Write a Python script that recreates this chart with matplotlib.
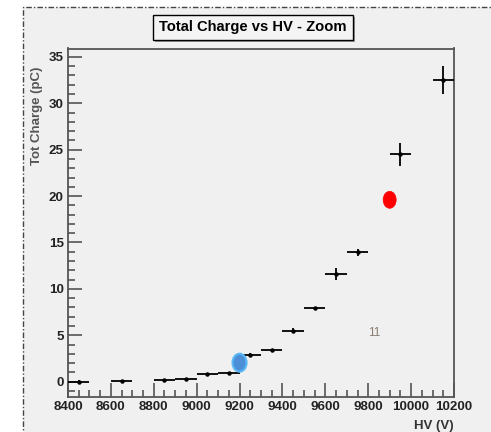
import matplotlib
matplotlib.use("Agg")
import matplotlib.pyplot as plt
from matplotlib.patches import Rectangle, Ellipse
from matplotlib.ticker import MultipleLocator
from matplotlib import font_manager

# Data
hv = [8450, 8650, 8850, 8950, 9050, 9150, 9250, 9350, 9450, 9550, 9650, 9750, 9950, 10150]
charge = [0.0, 0.05, 0.15, 0.25, 0.83, 0.9, 2.84, 3.37, 5.5, 7.9, 11.6, 13.95, 24.5, 32.5]
hv_err = [50] * 14
charge_err = [0.15, 0.15, 0.15, 0.15, 0.15, 0.15, 0.2, 0.2, 0.3, 0.2, 0.6, 0.4, 1.25, 1.5]
blue_pt = (9200, 2.05)
red_pt = (9900, 19.6)
label_11 = (9830, 5.3, "11")
title = "Total Charge vs HV - Zoom"
xlabel = "HV (V)"
ylabel = "Tot Charge (pC)"

names = {f.name for f in font_manager.fontManager.ttflist}
narrow = "Liberation Sans Narrow" if "Liberation Sans Narrow" in names else None

W, H = 491, 432
fig = plt.figure(figsize=(W / 100, H / 100), dpi=100)
fig.patch.set_facecolor("white")
plt.rcParams['font.family'] = ['Liberation Sans', 'DejaVu Sans']
tick_family = [narrow, 'Liberation Sans'] if narrow else ['Liberation Sans']
tick_size = 10.5 if narrow else 9.6

# background + dashed frame
fig.patches.append(Rectangle((22.7 / W, -0.2), 2, 1.2 - 7 / H, transform=fig.transFigure,
                             facecolor="#f0f0f0", edgecolor="#444444", lw=1.0,
                             linestyle=(0, (4, 1.5, 1, 1.5)), zorder=-5))

l, r, t, b = 68, 454, 48.5, 397.3
ax = fig.add_axes([l / W, 1 - b / H, (r - l) / W, (b - t) / H])
ax.set_zorder(5)
ax.set_facecolor("#f0f0f0")
ax.set_xlim(8400, 10200)
ax.set_ylim(-1.68, 35.9)

for s in ax.spines.values():
    s.set_color("#555555")
    s.set_linewidth(1.3)

ax.xaxis.set_major_locator(MultipleLocator(200))
ax.xaxis.set_minor_locator(MultipleLocator(50))
ax.yaxis.set_major_locator(MultipleLocator(5))
ax.yaxis.set_minor_locator(MultipleLocator(1))
ax.tick_params(which="both", direction="in", color="#555555", width=1.2,
               top=False, right=False)
ax.tick_params(which="major", length=10, pad=3)
ax.tick_params(which="minor", length=5)
for lab in ax.get_xticklabels() + ax.get_yticklabels():
    lab.set_fontweight("bold")
    lab.set_color("#222222")
    lab.set_family(tick_family)
    lab.set_fontsize(tick_size)

ax.errorbar(hv, charge, xerr=hv_err, yerr=charge_err, fmt="o", ms=2.2,
            color="black", ecolor="black", elinewidth=1.3, capsize=0, zorder=3)

ax.add_patch(Ellipse(blue_pt, width=14 / 0.2139, height=18 / 9.3,
                     facecolor="#4a8fd8", edgecolor="#5ab8f5", lw=1.5, zorder=4))
ax.add_patch(Ellipse(red_pt, width=13 / 0.2139, height=17 / 9.3,
                     facecolor="#ff0000", edgecolor="#ff0000", lw=0.5, zorder=4))
ax.text(label_11[0], label_11[1], label_11[2], color="#8a7e72", fontsize=8.5,
        ha="center", va="center")

fig.text(r / W, 0.5 / H, xlabel, ha="right", va="bottom",
         fontsize=9.5, fontweight="bold", color="#333333", family=tick_family)
fig.text(37 / W, 1 - 116 / H, ylabel, rotation=90, ha="center", va="center",
         fontsize=9.5, fontweight="bold", color="#555555")

# title box with shadow
bx0, bx1, by0, by1 = 152.7, 353.3, 15.3, 39.7
fig.patches.append(Rectangle(((bx0 + 2) / W, 1 - (by1 + 2) / H), (bx1 - bx0) / W,
                             (by1 - by0) / H, transform=fig.transFigure,
                             facecolor="#999999", edgecolor="none", zorder=1))
fig.patches.append(Rectangle((bx0 / W, 1 - by1 / H), (bx1 - bx0) / W,
                             (by1 - by0) / H, transform=fig.transFigure,
                             facecolor="#f4f4f4", edgecolor="black", lw=1.0, zorder=2))
fig.text((bx0 + bx1) / 2 / W, 1 - (by0 + by1) / 2 / H, title, ha="center", va="center",
         fontsize=(11.5 if narrow else 10.6), fontweight="bold", color="black", zorder=3,
         family=(tick_family if narrow else ['Liberation Sans']))

fig.savefig("out.png", dpi=100)
